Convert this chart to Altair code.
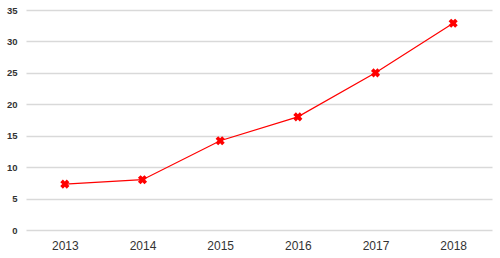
import altair as alt
import pandas as pd

years = ["2013", "2014", "2015", "2016", "2017", "2018"]
values = [7.3, 8.0, 14.2, 18.0, 25.0, 32.9]

df = pd.DataFrame({"year": years, "value": values})

base = alt.Chart(df).encode(
    x=alt.X("year:O", sort=years, title=None,
            scale=alt.Scale(paddingOuter=0.5, paddingInner=0),
            axis=alt.Axis(labelAngle=0, domain=False, ticks=False, grid=False,
                          labelFont="Liberation Sans", labelFontSize=12,
                          labelColor="#333333", labelPadding=10)),
    y=alt.Y("value:Q", title=None,
            scale=alt.Scale(domain=[0, 35], nice=False),
            axis=alt.Axis(values=[0, 5, 10, 15, 20, 25, 30, 35], domain=False, ticks=False,
                          grid=True, gridColor="#d9d9d9", gridWidth=1.5,
                          labelFont="Liberation Sans", labelFontSize=9.5, labelFontWeight="bold",
                          labelColor="#333333", labelPadding=9)),
)

line = base.mark_line(color="#ff0000", strokeWidth=1.2)
pts = base.mark_point(shape="cross", angle=45, filled=True, color="#ff0000", size=85, opacity=1)

chart = (line + pts).properties(
    width=466, height=220,
    autosize=alt.AutoSizeParams(type="none"),
    padding={"left": 26, "top": 10, "right": 8, "bottom": 28},
).configure_view(stroke=None)

chart.save("out.html", embed_options={"renderer": "svg", "actions": False})
